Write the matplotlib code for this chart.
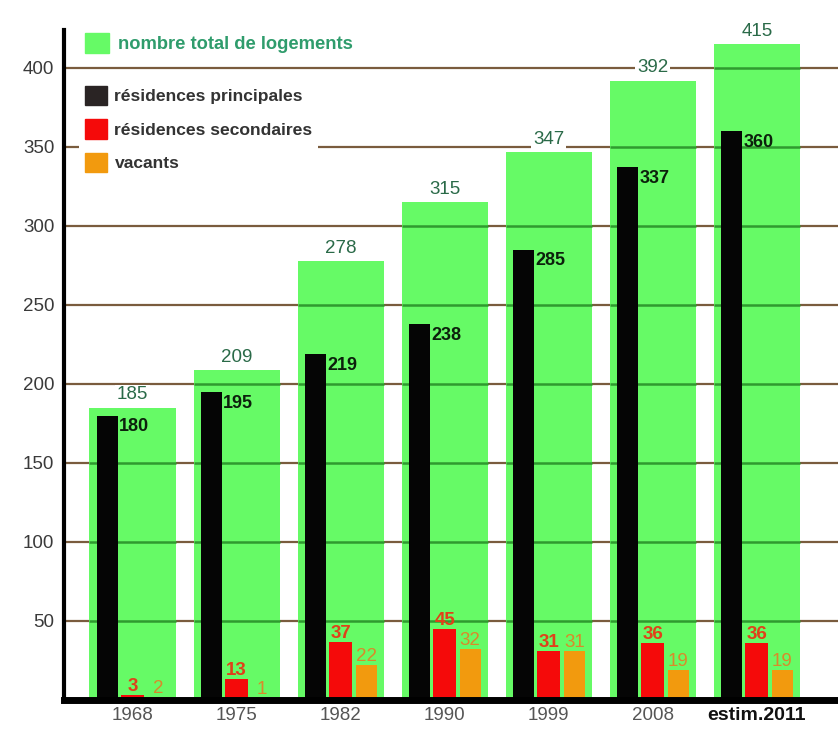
import matplotlib
matplotlib.use('Agg')
import matplotlib.pyplot as plt
from matplotlib.patches import Patch
import numpy as np

plt.rcParams['font.family'] = ['Liberation Sans', 'DejaVu Sans']

# logements par recensement
annees = ['1968', '1975', '1982', '1990', '1999', '2008', 'estim.2011']
total = [185, 209, 278, 315, 347, 392, 415]
principales = [180, 195, 219, 238, 285, 337, 360]
secondaires = [3, 13, 37, 45, 31, 36, 36]
vacants = [2, 1, 22, 32, 31, 19, 19]
graduations = [50, 100, 150, 200, 250, 300, 350, 400]

VERT = '#66fa66'
NOIR = '#050505'
ROUGE = '#f50a0a'
ORANGE = '#f29a0e'
GRILLE = '#7a5c3e'
GRILLE_VERTE = '#2f9a2f'
L_TOTAL = 0.83

fig = plt.figure(figsize=(8.38, 7.30), dpi=100)
ax = fig.add_axes([64/838, 30/730, 1 - 64/838, 670/730])

x = np.arange(len(annees))

for g in graduations:
    ax.axhline(g, color=GRILLE, lw=1.6, zorder=0.5)

ax.bar(x, total, width=L_TOTAL, color=VERT, zorder=1, linewidth=0)

# the grid shows through the green bars as a darker green line
for i in range(len(annees)):
    for g in graduations:
        if g < total[i]:
            ax.plot([x[i] - L_TOTAL/2, x[i] + L_TOTAL/2], [g, g],
                    color=GRILLE_VERTE, lw=1.8, zorder=1.5,
                    solid_capstyle='butt')

ax.bar(x - 0.245, principales, width=0.2, color=NOIR, zorder=2, linewidth=0)
ax.bar(x, secondaires, width=0.22, color=ROUGE, zorder=2, linewidth=0)
ax.bar(x + 0.245, vacants, width=0.2, color=ORANGE, zorder=2, linewidth=0)

for i in range(len(annees)):
    ax.annotate(str(total[i]), (x[i], total[i]), xytext=(0, 3),
                textcoords='offset points', ha='center', va='bottom',
                fontsize=13.5, color='#2a6a48', zorder=5, annotation_clip=False,
                bbox=dict(boxstyle='square,pad=0.1', fc='white', ec='none'))
    ax.annotate(str(principales[i]), (x[i] - 0.145, principales[i]),
                xytext=(1, -2), textcoords='offset points', ha='left',
                va='top', fontsize=13, fontweight='bold', color='#0c200c',
                zorder=5)
    ax.annotate(str(secondaires[i]), (x[i], secondaires[i]), xytext=(0, 0),
                textcoords='offset points', ha='center', va='bottom',
                fontsize=13.5, fontweight='bold', color='#e0401a', zorder=5)
    ax.annotate(str(vacants[i]), (x[i] + 0.245, vacants[i]), xytext=(0, 0),
                textcoords='offset points', ha='center', va='bottom',
                fontsize=13.5, color='#d98a2a', zorder=5)

ax.set_xlim(-0.66, 6.78)
ax.set_ylim(0, 424)
ax.set_yticks(graduations)
ax.set_yticklabels([str(g) for g in graduations], fontsize=13.5, color='#3a3a3a')
ax.set_xticks(x)
ax.set_xticklabels(annees, fontsize=13.5, color='#555555')
lab = ax.get_xticklabels()[-1]
lab.set_fontweight('bold')
lab.set_color('#111111')
lab.set_fontsize(14)
ax.tick_params(axis='both', length=0)
ax.tick_params(axis='y', pad=7)
ax.tick_params(axis='x', pad=5)

for s in ['top', 'right']:
    ax.spines[s].set_visible(False)
ax.spines['left'].set_linewidth(3)
ax.spines['bottom'].set_linewidth(5)
ax.spines['left'].set_zorder(6)
ax.spines['bottom'].set_zorder(6)

# legend: total on its own, the three kinds in a white box below the 400 line
leg1 = ax.legend(handles=[Patch(color=VERT, label='nombre total de logements')],
                 loc='upper left', bbox_to_anchor=(0.027, 0.995), frameon=False,
                 handlelength=1.3, handleheight=1.3,
                 handletextpad=0.5, borderpad=0, borderaxespad=0,
                 prop={'weight': 'bold', 'size': 13.2})
leg1.get_texts()[0].set_color('#2f9c6c')
ax.add_artist(leg1)

leg2 = ax.legend(handles=[Patch(color='#2a2424', label='résidences principales'),
                          Patch(color=ROUGE, label='résidences secondaires'),
                          Patch(color=ORANGE, label='vacants')],
                 loc='upper left', bbox_to_anchor=(0.02, 0.925), frameon=True,
                 facecolor='white', edgecolor='none', framealpha=1,
                 fancybox=False, handlelength=1.25, handleheight=1.35,
                 handletextpad=0.45, labelspacing=0.8, borderpad=0.3,
                 borderaxespad=0, prop={'weight': 'bold', 'size': 12.6})
for t in leg2.get_texts():
    t.set_color('#333333')
leg2.set_zorder(7)

fig.savefig('out.png', dpi=100)
